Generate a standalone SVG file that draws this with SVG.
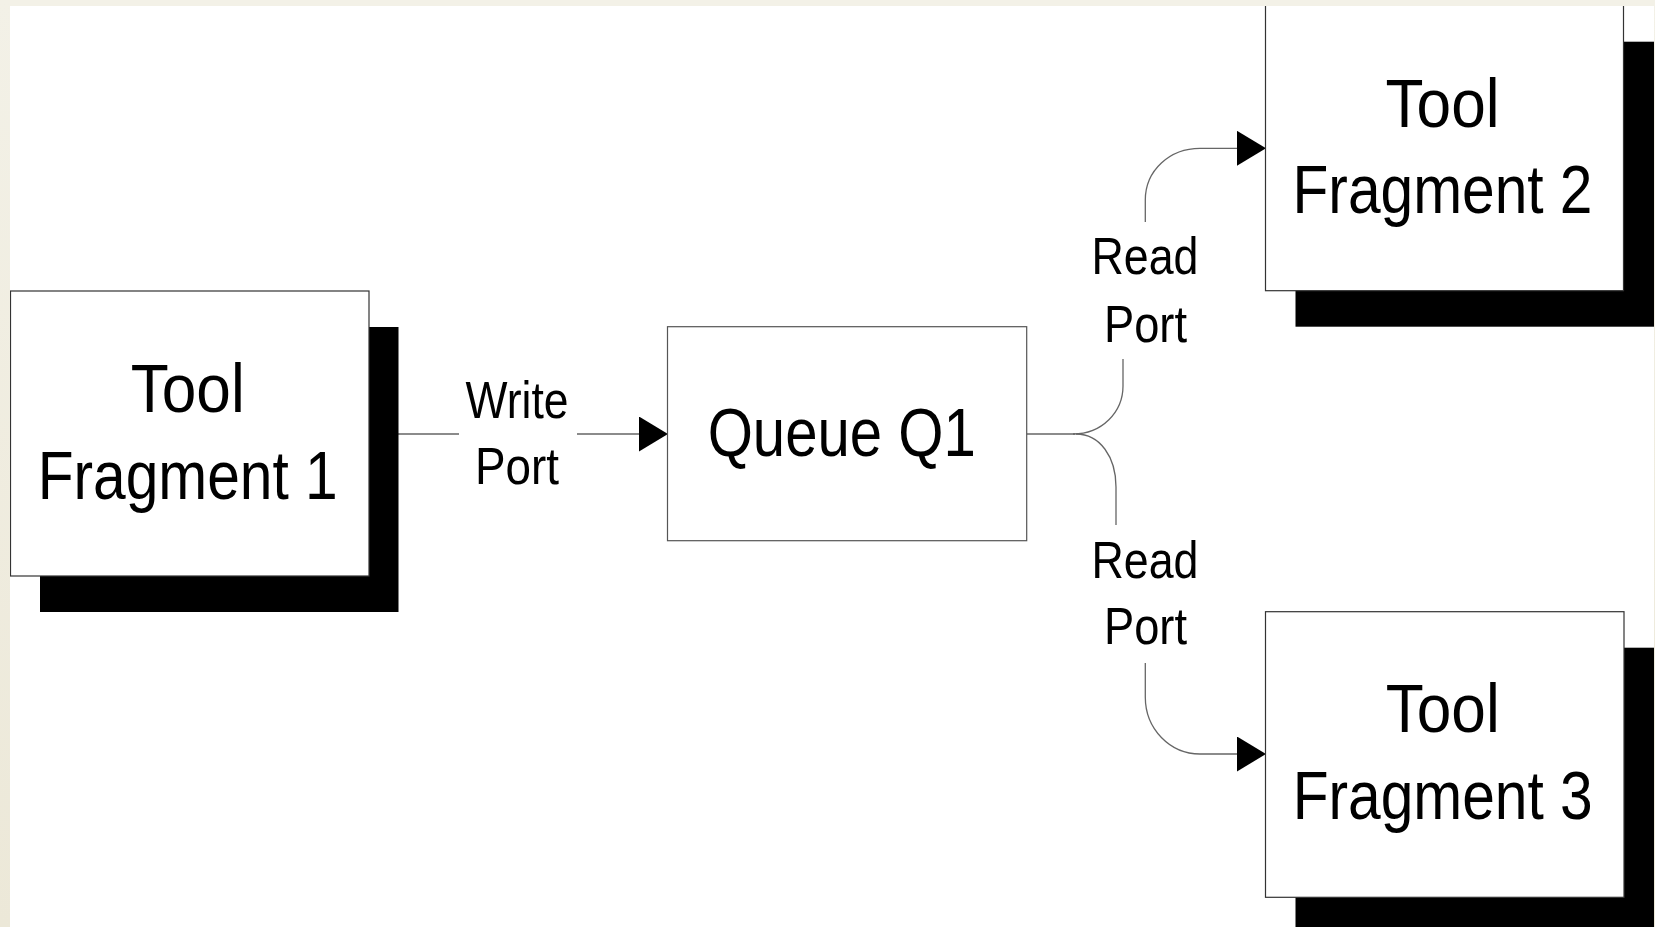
<svg xmlns="http://www.w3.org/2000/svg" width="1655" height="927" viewBox="0 0 1655 927">
  <style>
    .shadow { fill: #000; }
    .box { fill: #fff; stroke: #333; stroke-width: 1.2; }
    .queue { fill: #fff; stroke: #555; stroke-width: 1.2; }
    .big { font-family: "Liberation Sans Narrow", "Arial Narrow", "Liberation Sans", sans-serif; font-size: 68px; fill: #000; text-anchor: middle; }
    .lbl { font-family: "Liberation Sans Narrow", "Arial Narrow", "Liberation Sans", sans-serif; font-size: 52px; fill: #000; text-anchor: middle; }
    .wire { fill: none; stroke: #666; stroke-width: 1.3; marker-end: url(#head); }
    .wire-plain { fill: none; stroke: #666; stroke-width: 1.3; }
  </style>
  <defs>
    <linearGradient id="edge" x1="0" y1="0" x2="0" y2="1">
      <stop offset="0" stop-color="#F3F1E7"/>
      <stop offset="1" stop-color="#ECE8D8"/>
    </linearGradient>
    <marker id="head" viewBox="0 0 29 35" refX="0" refY="17.5" markerWidth="29" markerHeight="35" markerUnits="userSpaceOnUse" orient="auto">
      <path d="M0,0 L29,17.5 L0,35 Z" fill="#000"/>
    </marker>
  </defs>

  <!-- page -->
  <rect x="0" y="0" width="1655" height="927" fill="#fff"/>

  <!-- connectors -->
  <g id="connectors">
    <path class="wire" d="M398,434 H459 M577,434 H639"/>
    <path class="wire-plain" d="M1027,434 H1075"/>
    <path class="wire-plain" d="M1073,434 C1102,434 1123,412 1123,386 V359"/>
    <path class="wire-plain" d="M1076,434 C1100,434 1116,457 1116,487 V525"/>
    <path class="wire" d="M1145.3,222 V200 C1145.3,170 1170,148.3 1200,148.3 H1237"/>
    <path class="wire" d="M1145.3,663 V697 C1145.3,729 1170,754 1200,754 H1237"/>
    <text class="lbl" x="517" y="417.5" textLength="103" lengthAdjust="spacingAndGlyphs">Write</text>
    <text class="lbl" x="517" y="484" textLength="84" lengthAdjust="spacingAndGlyphs">Port</text>
    <text class="lbl" x="1145" y="274.3" textLength="107" lengthAdjust="spacingAndGlyphs">Read</text>
    <text class="lbl" x="1145.5" y="341.7" textLength="83" lengthAdjust="spacingAndGlyphs">Port</text>
    <text class="lbl" x="1145" y="577.7" textLength="107" lengthAdjust="spacingAndGlyphs">Read</text>
    <text class="lbl" x="1145.5" y="644" textLength="83" lengthAdjust="spacingAndGlyphs">Port</text>
  </g>

  <!-- Tool Fragment 1 -->
  <g id="tool-fragment-1">
    <rect class="shadow" x="40" y="327" width="358.5" height="285"/>
    <rect class="box" x="10.5" y="291" width="358.5" height="285"/>
    <text class="big" x="187.7" y="412" textLength="114" lengthAdjust="spacingAndGlyphs">Tool</text>
    <text class="big" x="187.7" y="498.6" textLength="300" lengthAdjust="spacingAndGlyphs">Fragment 1</text>
  </g>

  <!-- Queue Q1 -->
  <g id="queue-q1">
    <rect class="queue" x="667.5" y="326.7" width="359.2" height="214"/>
    <text class="big" x="841.7" y="456" font-size="69" textLength="268" lengthAdjust="spacingAndGlyphs">Queue Q1</text>
  </g>

  <!-- Tool Fragment 2 (top edge runs under the frame band) -->
  <g id="tool-fragment-2">
    <rect class="shadow" x="1295.5" y="41.7" width="358.5" height="285"/>
    <rect class="box" x="1265.5" y="3" width="358" height="287.7"/>
    <text class="big" x="1442.5" y="126.5" textLength="114" lengthAdjust="spacingAndGlyphs">Tool</text>
    <text class="big" x="1442.5" y="213.2" textLength="300" lengthAdjust="spacingAndGlyphs">Fragment 2</text>
  </g>

  <!-- Tool Fragment 3 -->
  <g id="tool-fragment-3">
    <rect class="shadow" x="1295.5" y="647.7" width="358.5" height="285"/>
    <rect class="box" x="1265.5" y="611.7" width="358.5" height="285.6"/>
    <text class="big" x="1442.7" y="732.3" textLength="114" lengthAdjust="spacingAndGlyphs">Tool</text>
    <text class="big" x="1442.7" y="819" textLength="300" lengthAdjust="spacingAndGlyphs">Fragment 3</text>
  </g>

  <!-- slide frame edges -->
  <rect x="0" y="0" width="1655" height="6" fill="#F3F1E7"/>
  <rect x="0" y="0" width="10" height="927" fill="url(#edge)"/>
  <rect x="1654" y="0" width="1" height="927" fill="url(#edge)"/>
</svg>
